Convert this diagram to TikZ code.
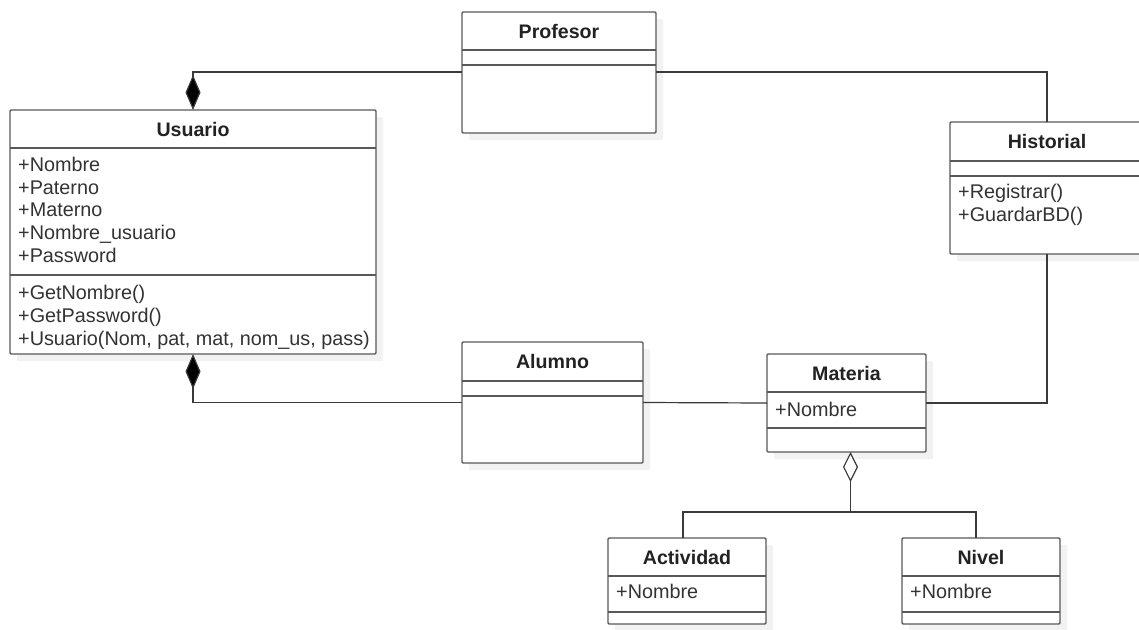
\documentclass[tikz,border=0pt]{standalone}
\usepackage{fontspec}
\setmainfont{Liberation Sans}
\usetikzlibrary{arrows.meta,shadows}
\definecolor{boxline}{HTML}{585858}
\definecolor{conn}{HTML}{3A3A3A}
\definecolor{txt}{HTML}{333333}
\definecolor{ttl}{HTML}{222222}
\begin{document}
\begin{tikzpicture}[x=1pt,y=-1pt,
  umlbox/.style={draw=boxline, line width=1.4pt, fill=white, rounded corners=1.2pt,
    anchor=north west, inner sep=0pt, outer sep=0pt,
    drop shadow={shadow xshift=7pt, shadow yshift=-7pt, fill=black!5, opacity=1}},
  divider/.style={draw=boxline, line width=1.4pt},
  title/.style={font=\fontsize{19.6}{22}\selectfont\bfseries, text=ttl, inner sep=0pt},
  member/.style={font=\fontsize{19.8}{22}\selectfont, text=txt, inner sep=0pt, anchor=base west},
  conn/.style={draw=conn, line width=1.2pt},
  comp/.style={conn, {Diamond[length=35pt,width=15pt,fill=black]}-},
  aggr/.style={conn, {Diamond[length=30pt,width=15pt,fill=white]}-}
]
\useasboundingbox (0,0) rectangle (1139,629);
\fill[white] (0,0) rectangle (1139,629);

% ---------- Usuario ----------
\node[umlbox, minimum width=366pt, minimum height=244pt] (usuario) at (10,110) {};
\draw[divider] (10,148) -- (376,148);
\draw[divider] (10,275) -- (376,275);
\node[title] (usuarioT) at (193,129) {Usuario};
\node[member] (u1) at (18,171) {+Nombre};
\node[member] (u2) at (18,194) {+Paterno};
\node[member] (u3) at (18,216.5) {+Materno};
\node[member] (u4) at (18,239) {+Nombre\_usuario};
\node[member] (u5) at (18,262) {+Password};
\node[member] (u6) at (18,299) {+GetNombre()};
\node[member] (u7) at (18,322) {+GetPassword()};
\node[member] (u8) at (18,345) {+Usuario(Nom, pat, mat, nom\_us, pass)};

% ---------- Profesor ----------
\node[umlbox, minimum width=194pt, minimum height=121pt] (profesor) at (462,12) {};
\draw[divider] (462,50) -- (656,50);
\draw[divider] (462,65) -- (656,65);
\node[title] (profesorT) at (559,31) {Profesor};

% ---------- Historial ----------
\node[umlbox, minimum width=194pt, minimum height=132pt] (historial) at (950,122) {};
\draw[divider] (950,161) -- (1144,161);
\draw[divider] (950,176) -- (1144,176);
\node[title] (historialT) at (1047,141) {Historial};
\node[member] (h1) at (958,198) {+Registrar()};
\node[member] (h2) at (958,221) {+GuardarBD()};

% ---------- Alumno ----------
\node[umlbox, minimum width=181pt, minimum height=121pt] (alumno) at (462,342) {};
\draw[divider] (462,381) -- (643,381);
\draw[divider] (462,396) -- (643,396);
\node[title] (alumnoT) at (552.5,361) {Alumno};

% ---------- Materia ----------
\node[umlbox, minimum width=159pt, minimum height=98pt] (materia) at (767,354) {};
\draw[divider] (767,392) -- (926,392);
\draw[divider] (767,428) -- (926,428);
\node[title] (materiaT) at (846.5,373) {Materia};
\node[member] (m1) at (775,416) {+Nombre};

% ---------- Actividad ----------
\node[umlbox, minimum width=158pt, minimum height=86pt] (actividad) at (608,538) {};
\draw[divider] (608,576) -- (766,576);
\draw[divider] (608,612) -- (766,612);
\node[title] (actividadT) at (687,557) {Actividad};
\node[member] (a1) at (616,598) {+Nombre};

% ---------- Nivel ----------
\node[umlbox, minimum width=158pt, minimum height=86pt] (nivel) at (902,538) {};
\draw[divider] (902,576) -- (1060,576);
\draw[divider] (902,612) -- (1060,612);
\node[title] (nivelT) at (981,557) {Nivel};
\node[member] (n1) at (910,598) {+Nombre};

% ---------- Connectors ----------
\draw[comp] (usuario.north) |- (profesor.west |- 0,72);
\draw[conn] (profesor.east |- 0,72) -| (historial.north);
\draw[conn] (historial.south) |- (materia.east);
\draw[comp] (usuario.south) |- (alumno.west);
\draw[conn] (alumno.east) -- (materia.west);
\coordinate (aggtop) at ([xshift=4pt]materia.south);
\coordinate (join) at (aggtop |- 0,512);
\draw[aggr] (aggtop) -- (join);
\draw[conn] ([xshift=-4pt]actividad.north) |- (join) -| ([xshift=-5pt]nivel.north);
\end{tikzpicture}
\end{document}
